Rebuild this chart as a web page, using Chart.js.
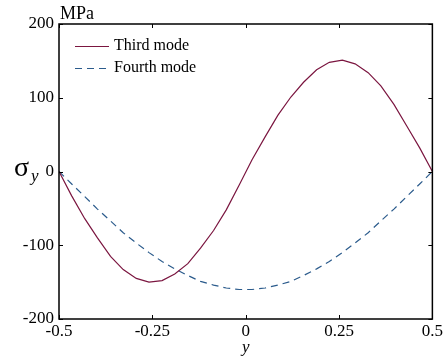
<!DOCTYPE html>
<html>
<head>
<meta charset="utf-8">
<script src="https://cdn.jsdelivr.net/npm/chart.js@4"></script>
<style>
  html, body { margin: 0; padding: 0; background: #fff; }
  #wrap { width: 445px; height: 356px; }
</style>
</head>
<body>
<div id="wrap"><canvas id="chart" width="445" height="356"></canvas></div>
<script>
// positions across the thickness (y)
const yPos = [-0.5, -0.466, -0.431, -0.397, -0.362, -0.328, -0.293, -0.259, -0.224, -0.190,
  -0.155, -0.121, -0.086, -0.052, -0.017, 0.017, 0.052, 0.086, 0.121, 0.155,
  0.190, 0.224, 0.259, 0.293, 0.328, 0.362, 0.397, 0.431, 0.466, 0.5];

// stress sigma_y (MPa)
const thirdMode = [0, -33, -64, -90, -115, -133, -145, -150, -148, -139,
  -125, -104, -80, -52, -18, 16, 47, 76, 101, 121,
  138, 148, 151, 146, 134, 116, 91, 62, 32, 0];
const fourthMode = [0, -17, -34, -51, -67, -83, -97, -110, -122, -132,
  -141, -149, -154, -158, -160, -160, -158, -154, -149, -141,
  -132, -122, -110, -97, -83, -67, -51, -34, -17, 0];

const xTicks = [-0.5, -0.25, 0, 0.25, 0.5];
const yTicks = [-200, -100, 0, 100, 200];
const seriesNames = ["Third mode", "Fourth mode"];

const FONT = "'Liberation Serif', 'Times New Roman', serif";
const RED = "#7b1640";
const BLUE = "#2b5b8c";

Chart.defaults.font.family = FONT;
Chart.defaults.font.size = 16;
Chart.defaults.color = "#000";

function pts(vals) {
  return yPos.map((x, i) => ({ x: x, y: vals[i] }));
}

// frame, inward ticks, legend and labels
const extras = {
  id: "extras",
  afterDraw(c) {
    const ctx = c.ctx;
    const a = c.chartArea;
    const xs = c.scales.x, ys = c.scales.y;
    ctx.save();
    ctx.strokeStyle = "#000";
    ctx.lineWidth = 1.5;
    ctx.strokeRect(a.left, a.top, a.right - a.left, a.bottom - a.top);
    ctx.lineWidth = 1;
    xTicks.forEach(v => {
      const px = Math.round(xs.getPixelForValue(v)) + 0.5;
      ctx.beginPath();
      ctx.moveTo(px, a.bottom); ctx.lineTo(px, a.bottom - 4);
      ctx.moveTo(px, a.top); ctx.lineTo(px, a.top + 4);
      ctx.stroke();
    });
    yTicks.forEach(v => {
      const py = Math.round(ys.getPixelForValue(v)) + 0.5;
      ctx.beginPath();
      ctx.moveTo(a.left, py); ctx.lineTo(a.left + 4, py);
      ctx.moveTo(a.right, py); ctx.lineTo(a.right - 4, py);
      ctx.stroke();
    });

    // legend
    ctx.lineWidth = 1;
    ctx.strokeStyle = RED;
    ctx.beginPath(); ctx.moveTo(75, 46.5); ctx.lineTo(109, 46.5); ctx.stroke();
    ctx.strokeStyle = BLUE;
    ctx.setLineDash([7, 5]);
    ctx.beginPath(); ctx.moveTo(75, 68.5); ctx.lineTo(110, 68.5); ctx.stroke();
    ctx.setLineDash([]);
    ctx.fillStyle = "#000";
    ctx.font = "16px " + FONT;
    ctx.textBaseline = "middle";
    ctx.textAlign = "left";
    ctx.fillText(seriesNames[0], 114, 46);
    ctx.fillText(seriesNames[1], 114, 68);

    // unit
    ctx.textBaseline = "alphabetic";
    ctx.font = "18px " + FONT;
    ctx.fillText("MPa", 60, 19);

    // sigma_y
    ctx.font = "28px " + FONT;
    ctx.fillText("\u03C3", 14, 176);
    ctx.font = "italic 17px " + FONT;
    ctx.fillText("y", 31, 181);

    // x title
    ctx.textAlign = "center";
    ctx.font = "italic 17px " + FONT;
    ctx.fillText("y", (a.left + a.right) / 2, 352);
    ctx.restore();
  }
};

new Chart(document.getElementById("chart").getContext("2d"), {
  type: "scatter",
  data: {
    datasets: [
      {
        label: seriesNames[0],
        data: pts(thirdMode),
        showLine: true,
        borderColor: RED,
        borderWidth: 1.2,
        pointRadius: 0,
        tension: 0,
        fill: false
      },
      {
        label: seriesNames[1],
        data: pts(fourthMode),
        showLine: true,
        borderColor: BLUE,
        borderWidth: 1.2,
        borderDash: [7, 5],
        pointRadius: 0,
        tension: 0,
        fill: false
      }
    ]
  },
  options: {
    responsive: false,
    animation: false,
    layout: { padding: { top: 24, right: 12, left: 0, bottom: 0 } },
    plugins: {
      legend: { display: false },
      tooltip: { enabled: false }
    },
    scales: {
      x: {
        type: "linear",
        min: -0.5,
        max: 0.5,
        afterBuildTicks: s => { s.ticks = xTicks.map(v => ({ value: v })); },
        afterFit: s => { s.height = 37; },
        grid: { display: false, drawTicks: false },
        border: { display: false },
        ticks: {
          color: "#000",
          font: { family: FONT, size: 17 },
          padding: 2,
          maxRotation: 0,
          autoSkip: false,
          callback: v => String(v)
        }
      },
      y: {
        min: -200,
        max: 200,
        afterBuildTicks: s => { s.ticks = yTicks.map(v => ({ value: v })); },
        afterFit: s => { s.width = 59; },
        grid: { display: false, drawTicks: false },
        border: { display: false },
        ticks: {
          color: "#000",
          font: { family: FONT, size: 17 },
          padding: 5,
          autoSkip: false,
          callback: v => String(v)
        }
      }
    }
  },
  plugins: [extras]
});
</script>
</body>
</html>
